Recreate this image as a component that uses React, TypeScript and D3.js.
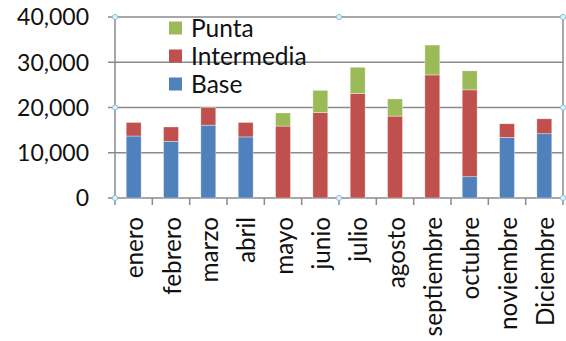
import React from "react";
import * as d3 from "d3";

const months = [
  "enero", "febrero", "marzo", "abril", "mayo", "junio",
  "julio", "agosto", "septiembre", "octubre", "noviembre", "Diciembre",
];
const base = [13700, 12500, 16100, 13500, 0, 0, 0, 0, 0, 4700, 13400, 14200];
const intermedia = [3000, 3200, 3900, 3200, 15900, 18900, 23100, 18100, 27200, 19200, 3000, 3300];
const punta = [0, 0, 0, 0, 2900, 4900, 5800, 3800, 6600, 4200, 0, 0];
const yTicks = [0, 10000, 20000, 30000, 40000];

const seriesNames = ["Base", "Intermedia", "Punta"];
const seriesColors = ["#4F81BD", "#C0504D", "#9BBB59"];

const W = 566;
const H = 341;
const left = 115;
const right = 563;
const top = 17;
const bottom = 198;
const FONT = "Lato, 'Open Sans', sans-serif";

export default function App() {
  const x = d3
    .scaleBand<string>()
    .domain(months)
    .range([left, right])
    .paddingInner(0.6)
    .paddingOuter(0.3);
  const y = d3.scaleLinear().domain([0, 40000]).range([bottom, top]);
  const step = x.step();

  const table = months.map((m, i) => ({
    month: m,
    Base: base[i],
    Intermedia: intermedia[i],
    Punta: punta[i],
  }));
  const stacked = d3.stack<any>().keys(seriesNames)(table);

  const fmt = d3.format(",");
  const handles: [number, number][] = [
    [left, top], [(left + right) / 2, top], [right, top],
    [left, (top + bottom) / 2], [right, (top + bottom) / 2],
    [left, bottom], [(left + right) / 2, bottom], [right, bottom],
  ];

  return (
    <svg
      width={W}
      height={H}
      style={{ position: "absolute", left: 0, top: 0, background: "#fff" }}
      fontFamily={FONT}
    >
      {/* gridlines */}
      {yTicks.map((t) => (
        <line key={"g" + t} x1={left} x2={right} y1={y(t)} y2={y(t)} stroke="#8a8a8a" strokeWidth={1.5} />
      ))}
      {/* left axis ticks */}
      {yTicks.map((t) => (
        <line key={"yt" + t} x1={left - 7} x2={left} y1={y(t)} y2={y(t)} stroke="#8a8a8a" strokeWidth={1.5} />
      ))}
      {/* axes */}
      <line x1={left} x2={left} y1={top} y2={bottom} stroke="#8a8a8a" strokeWidth={1.5} />
      <line x1={right} x2={right} y1={top} y2={bottom} stroke="#8a8a8a" strokeWidth={1.5} />
      {d3.range(months.length + 1).map((i) => (
        <line
          key={"xt" + i}
          x1={left + i * step}
          x2={left + i * step}
          y1={bottom}
          y2={bottom + 7}
          stroke="#8a8a8a"
          strokeWidth={1.5}
        />
      ))}

      {/* stacked bars */}
      {stacked.map((s, si) => (
        <g key={s.key} fill={seriesColors[si]}>
          {s.map((d, i) =>
            d[1] - d[0] > 0 ? (
              <rect
                key={i}
                x={x(months[i])}
                width={x.bandwidth()}
                y={y(d[1])}
                height={y(d[0]) - y(d[1])}
                stroke="#ffffff"
                strokeOpacity={0.6}
                strokeWidth={0.6}
              />
            ) : null
          )}
        </g>
      ))}

      {/* y labels */}
      {yTicks.map((t) => (
        <text key={"yl" + t} x={89} y={y(t)} dy="0.36em" textAnchor="end" fontSize={23} fill="#111">
          {fmt(t)}
        </text>
      ))}

      {/* x labels */}
      {months.map((m) => (
        <text
          key={"xl" + m}
          transform={`translate(${(x(m) as number) + x.bandwidth() / 2 + 9.5},217) rotate(-90)`}
          textAnchor="end"
          fontSize={24.3}
          fill="#111"
        >
          {m}
        </text>
      ))}

      {/* legend */}
      {["Punta", "Intermedia", "Base"].map((name, i) => {
        const ci = seriesNames.indexOf(name);
        const cy = 28 + i * 28;
        return (
          <g key={"lg" + name}>
            <rect x={169} y={cy - 6.5} width={13} height={13} fill={seriesColors[ci]} />
            <text x={191} y={cy} dy="0.36em" fontSize={24.5} fill="#111">
              {name}
            </text>
          </g>
        );
      })}

      {/* selection handles */}
      {handles.map(([hx, hy], i) => (
        <circle key={"h" + i} cx={hx} cy={hy} r={2.6} fill="#dff3fa" stroke="#8cc3d8" strokeWidth={1} />
      ))}
    </svg>
  );
}
